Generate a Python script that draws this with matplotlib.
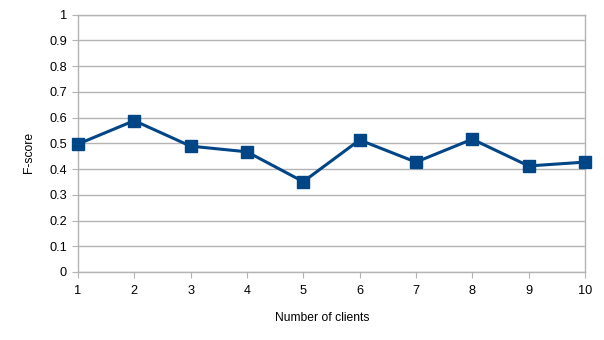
import matplotlib.pyplot as plt

clients = [1, 2, 3, 4, 5, 6, 7, 8, 9, 10]
f_scores = [0.497, 0.588, 0.489, 0.467, 0.351, 0.513, 0.427, 0.516, 0.412, 0.427]
y_ticks = [0, 0.1, 0.2, 0.3, 0.4, 0.5, 0.6, 0.7, 0.8, 0.9, 1]
y_tick_labels = ['0', '0.1', '0.2', '0.3', '0.4', '0.5', '0.6', '0.7', '0.8', '0.9', '1']

plt.rcParams['font.family'] = ['Liberation Sans', 'DejaVu Sans']

fig = plt.figure(figsize=(6.04, 3.4), dpi=100)
ax = fig.add_axes([0.129, 0.2, 0.8395, 0.757])

grid_color = '#b3b3b3'
ax.plot(clients, f_scores, color='#004586', linewidth=2.2, marker='s',
        markersize=8, zorder=3, clip_on=False)

ax.set_xlim(1, 10)
ax.set_ylim(0, 1)
ax.set_xticks(clients)
ax.set_yticks(y_ticks)
ax.set_yticklabels(y_tick_labels)
ax.grid(True, axis='y', color=grid_color, linewidth=1)
ax.set_axisbelow(True)
for s in ax.spines.values():
    s.set_color(grid_color)
    s.set_linewidth(1)
ax.tick_params(axis='both', colors=grid_color, labelcolor='black', labelsize=9.2, length=4)
ax.tick_params(axis='x', pad=5)
ax.tick_params(axis='y', pad=4)

ax.set_xlabel('Number of clients', fontsize=8.7)
ax.set_ylabel('F-score', fontsize=8.7)
# labels sit slightly off-centre in the original
ax.xaxis.set_label_coords(0.481, -0.155)
ax.yaxis.set_label_coords(-0.084, 0.466)

fig.savefig('out.png', dpi=100)
